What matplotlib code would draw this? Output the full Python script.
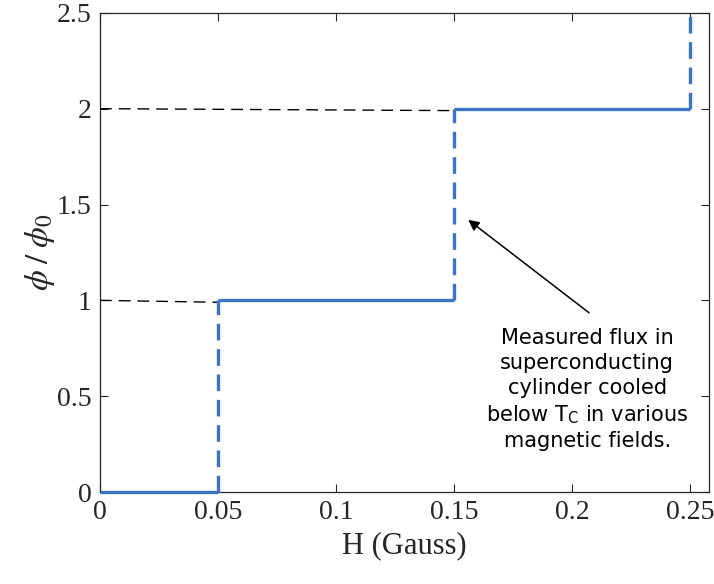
import numpy as np
import matplotlib
matplotlib.use('Agg')
import matplotlib.pyplot as plt

plt.rcParams['mathtext.fontset'] = 'stix'

# flux quantization steps
edges = [0.0, 0.05, 0.15, 0.25]
levels = [0, 1, 2]
top_jump = 2.5

# guide lines (start, end) drawn from the y axis
guide_x = [[0.0, 0.05], [0.0, 0.15]]
guide_y = [[1.0, 0.99], [2.0, 1.99]]

xticks = [0, 0.05, 0.1, 0.15, 0.2, 0.25]
xlabels = ['0', '0.05', '0.1', '0.15', '0.2', '0.25']
yticks = [0, 0.5, 1, 1.5, 2, 2.5]
ylabels = ['0', '0.5', '1', '1.5', '2', '2.5']

note = 'Measured flux in\nsuperconducting\ncylinder cooled\nbelow T$_\\mathregular{C}$ in various\nmagnetic fields.'
arrow_tip = (0.156, 1.42)
arrow_tail = (0.2072, 0.935)
note_pos = (0.2064, 0.535)

blue = '#3a75c4'
serif = 'Liberation Serif'

fig = plt.figure(figsize=(7.14, 5.84), dpi=100)
ax = fig.add_axes([0.14, 0.1575, 0.853, 0.8205])

for gx, gy in zip(guide_x, guide_y):
  ax.plot(gx, gy, color='black', lw=1.0, linestyle=(0, (8.5, 5)))

for i, lev in enumerate(levels):
  ax.plot([edges[i], edges[i+1]], [lev, lev], color=blue, lw=2.4, solid_capstyle='butt',
          clip_on=False, zorder=5)

tops = levels[1:] + [top_jump]
for i, lev in enumerate(levels):
  ax.plot([edges[i+1], edges[i+1]], [lev, tops[i]], color=blue, lw=2.4, linestyle=(0, (5, 2.6)),
          clip_on=False, zorder=5)

ax.annotate('', xy=arrow_tip, xytext=arrow_tail,
            arrowprops=dict(arrowstyle='-|>', color='black', lw=1.1, shrinkA=0, shrinkB=0,
                            mutation_scale=16))
ax.text(note_pos[0], note_pos[1], note, ha='center', va='center', fontsize=15,
        family='DejaVu Sans', linespacing=1.3)

ax.set_xlim(0, 0.258)
ax.set_ylim(0, 2.5)
ax.set_xticks(xticks)
ax.set_xticklabels(xlabels, family=serif, fontsize=20)
ax.set_yticks(yticks)
ax.set_yticklabels(ylabels, family=serif, fontsize=20)
ax.tick_params(direction='in', length=6, width=0.8, top=True, right=True, colors='#262626', pad=6)
for s in ax.spines.values():
  s.set_color('#262626')
  s.set_linewidth(0.9)

ax.set_xlabel('H (Gauss)', family=serif, fontsize=22, color='#262626', labelpad=4)
ax.set_ylabel('$\\phi\\;/\\;\\phi_0$', fontsize=24, color='#262626', labelpad=0)

plt.savefig('out.png', dpi=100)
